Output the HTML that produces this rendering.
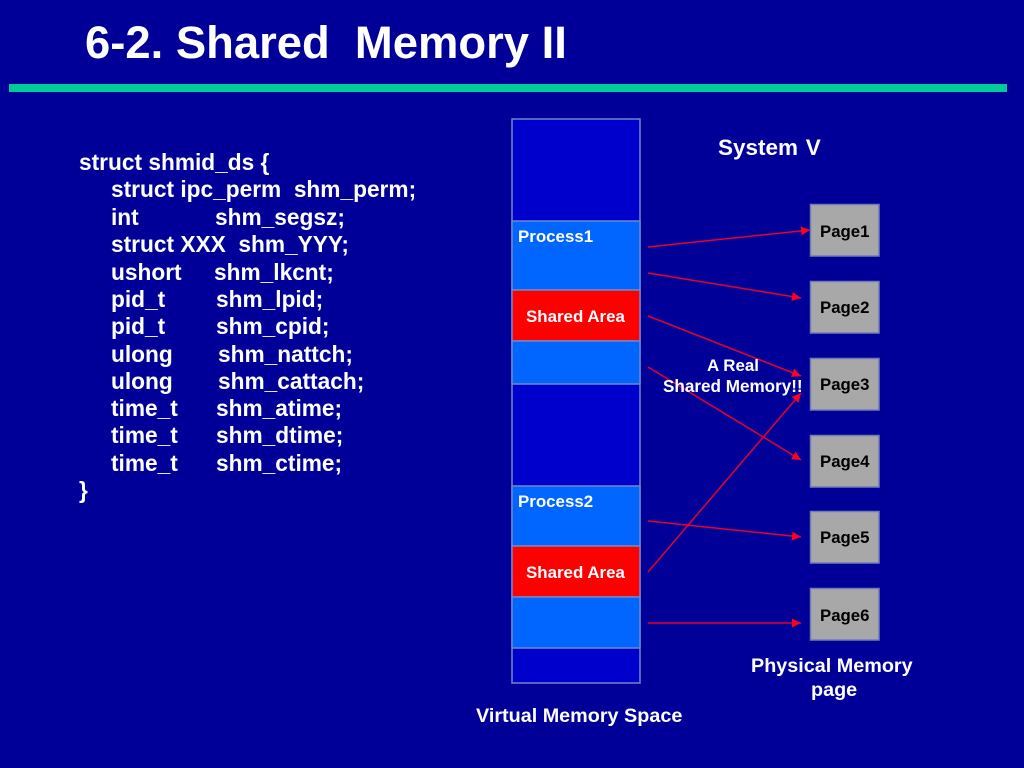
<!DOCTYPE html>
<html lang="en">
<head>
<meta charset="utf-8">
<title>6-2. Shared Memory II</title>
<style>
html,body{margin:0;padding:0;background:#000099}
#s{position:relative;width:1024px;height:768px;overflow:hidden;background:#000099;font-family:"Liberation Sans",Arial,sans-serif;font-weight:bold;color:#fff}
svg{position:absolute;left:0;top:0}
.t{position:absolute;white-space:pre;line-height:1}
.c{font-size:22.7px}
.m{font-size:16.9px}
.l{font-size:19.8px}
.p{color:#000;font-size:16.8px}
</style>
</head>
<body>
<div id="s">
<svg width="1024" height="768" viewBox="0 0 1024 768">
<defs>
<marker id="a" markerUnits="userSpaceOnUse" markerWidth="10" markerHeight="10" refX="9" refY="4.5" orient="auto">
<path d="M0 0L9 4.5L0 9z" fill="#ff0022"/>
</marker>
</defs>
<rect x="9" y="84" width="998" height="8" fill="#00cc99"/>
<g stroke="#7088c4" stroke-width="1.5">
<rect x="512" y="119" width="128" height="564" fill="#0000cc"/>
<rect x="512" y="221" width="128" height="69" fill="#0066ff"/>
<rect x="512" y="290" width="128" height="51" fill="#ff0000"/>
<rect x="512" y="341" width="128" height="43" fill="#0066ff"/>
<rect x="512" y="486" width="128" height="60" fill="#0066ff"/>
<rect x="512" y="546" width="128" height="51" fill="#ff0000"/>
<rect x="512" y="597" width="128" height="51" fill="#0066ff"/>
</g>
<g fill="#a8a8a8" stroke="#6f7cb4" stroke-width="1.5">
<rect x="810.500" y="204.500" width="68.500" height="51.500"/>
<rect x="810.500" y="281.500" width="68.500" height="51.500"/>
<rect x="810.500" y="358.500" width="68.500" height="51.500"/>
<rect x="810.500" y="435.500" width="68.500" height="51.500"/>
<rect x="810.500" y="511.500" width="68.500" height="51.500"/>
<rect x="810.500" y="588.500" width="68.500" height="51.500"/>
</g>
<g stroke="#e8002c" stroke-width="1.500" fill="none">
<line x1="648" y1="247" x2="810" y2="230" marker-end="url(#a)"/>
<line x1="648" y1="273" x2="801" y2="298" marker-end="url(#a)"/>
<line x1="648" y1="316" x2="801" y2="376" marker-end="url(#a)"/>
<line x1="648" y1="367" x2="801" y2="460" marker-end="url(#a)"/>
<line x1="648" y1="521" x2="801" y2="537" marker-end="url(#a)"/>
<line x1="648" y1="572" x2="801" y2="393" marker-end="url(#a)"/>
<line x1="648" y1="623" x2="801" y2="623" marker-end="url(#a)"/>
</g>
</svg>

<div class="t" style="left:85px;top:20px;font-size:45.4px">6-2. Shared  Memory II</div>

<div class="t c" style="left:79px;top:151px">struct shmid_ds {</div>
<div class="t c" style="left:111px;top:178px">struct ipc_perm  shm_perm;</div>
<div class="t c" style="left:111px;top:206px">int</div>
<div class="t c" style="left:215px;top:206px">shm_segsz;</div>
<div class="t c" style="left:111px;top:233px">struct XXX  shm_YYY;</div>
<div class="t c" style="left:111px;top:261px">ushort</div>
<div class="t c" style="left:214px;top:261px">shm_lkcnt;</div>
<div class="t c" style="left:111px;top:288px">pid_t</div>
<div class="t c" style="left:216px;top:288px">shm_lpid;</div>
<div class="t c" style="left:111px;top:315px">pid_t</div>
<div class="t c" style="left:216px;top:315px">shm_cpid;</div>
<div class="t c" style="left:111px;top:343px">ulong</div>
<div class="t c" style="left:218px;top:343px">shm_nattch;</div>
<div class="t c" style="left:111px;top:370px">ulong</div>
<div class="t c" style="left:218px;top:370px">shm_cattach;</div>
<div class="t c" style="left:111px;top:397px">time_t</div>
<div class="t c" style="left:216px;top:397px">shm_atime;</div>
<div class="t c" style="left:111px;top:424px">time_t</div>
<div class="t c" style="left:216px;top:424px">shm_dtime;</div>
<div class="t c" style="left:111px;top:452px">time_t</div>
<div class="t c" style="left:216px;top:452px">shm_ctime;</div>
<div class="t c" style="left:79px;top:479px">}</div>

<div class="t" style="left:718px;top:137px;font-size:22.5px;word-spacing:1.5px">System V</div>
<div class="t m" style="left:518px;top:229px">Process1</div>
<div class="t m" style="left:526px;top:309px">Shared Area</div>
<div class="t m" style="left:518px;top:494px">Process2</div>
<div class="t m" style="left:526px;top:565px">Shared Area</div>
<div class="t m" style="left:707px;top:358px">A Real</div>
<div class="t m" style="left:663px;top:378px;font-size:17.1px">Shared Memory!!</div>

<div class="t p" style="left:820px;top:224px">Page1</div>
<div class="t p" style="left:820px;top:300px">Page2</div>
<div class="t p" style="left:820px;top:377px">Page3</div>
<div class="t p" style="left:820px;top:454px">Page4</div>
<div class="t p" style="left:820px;top:530px">Page5</div>
<div class="t p" style="left:820px;top:608px">Page6</div>

<div class="t l" style="left:751px;top:657px">Physical Memory</div>
<div class="t l" style="left:811px;top:681px">page</div>
<div class="t l" style="left:476px;top:707px">Virtual Memory Space</div>
</div>
</body>
</html>
